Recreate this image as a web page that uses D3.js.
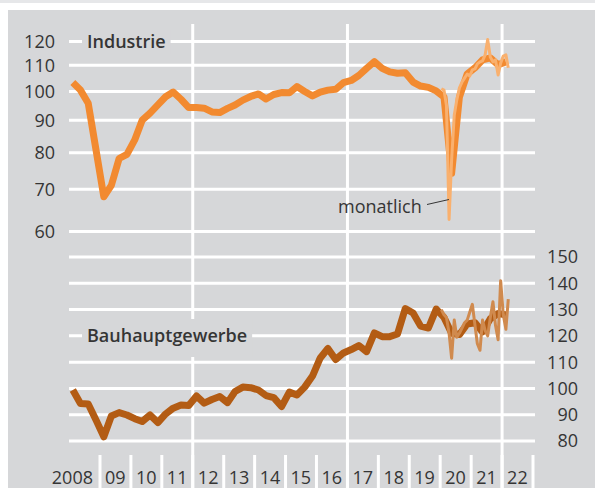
<!DOCTYPE html>
<html>
<head>
<meta charset="utf-8">
<script src="https://cdn.jsdelivr.net/npm/d3@7"></script>
<style>
  body { margin: 0; background: #fff; }
  svg { display: block; }
  text { font-family: "Open Sans", sans-serif; fill: #353535; }
</style>
</head>
<body>
<div id="chart"></div>
<script>

// quarterly indices 2008 Q1 .. 2022 Q1
const industrieQuartal = [103.3, 100.5, 95.8, 80.8, 68.1, 71.0, 78.3, 79.5,
  83.8, 90.1, 92.4, 95.2, 98.1, 99.8, 97.2, 94.3,
  94.3, 94.1, 92.8, 92.6, 94.0, 95.2, 96.9, 98.2,
  99.1, 97.3, 98.9, 99.6, 99.5, 101.8, 100.0, 98.4,
  99.8, 100.5, 100.8, 103.3, 104.1, 106.0, 108.8, 111.5,
  108.8, 107.4, 106.9, 107.1, 103.5, 102.0, 101.5, 100.2,
  98.0, 74.2, 98.0, 106.6, 109.0, 112.2, 113.0, 110.2, 111.4]

const bauQuartal = [99.4, 94.3, 94.1, 88.0, 81.6, 89.5, 90.8, 89.9,
  88.5, 87.4, 89.9, 87.0, 90.3, 92.5, 93.7, 93.5,
  97.1, 94.4, 95.8, 96.9, 94.6, 98.8, 100.5, 100.3,
  99.4, 97.3, 96.5, 93.1, 98.6, 97.5, 100.5, 104.7,
  111.6, 115.2, 111.0, 113.5, 114.8, 116.3, 114.0, 121.1,
  119.7, 119.7, 120.7, 130.4, 128.7, 123.7, 123.0, 130.2,
  127.0, 121.0, 120.5, 124.5, 125.0, 121.5, 126.5, 128.5, 128.0]

// monthly indices Jan 2020 .. Mar 2022
const industrieMonat = [101, 100.5, 95, 62.7, 78, 91.7, 96.9, 101.3, 103.5, 105, 106.6, 105.8,
  108.2, 108.6, 110.6, 111.4, 111.8, 114.3, 120.9, 113.4, 111.4, 112.2, 106.2, 110.9,
  113.8, 114.3, 109.0]

const bauMonat = [130, 128, 127, 121, 111.5, 126, 119.5, 121, 123, 125, 126, 129,
  132, 124, 117, 114.5, 126, 122, 120, 127, 133, 124, 118.5, 141,
  128, 122.5, 134]

const industrieTicks = [60, 70, 80, 90, 100, 110, 120]
const bauTicks = [80, 90, 100, 110, 120, 130, 140, 150]
const jahre = d3.range(2008, 2023)

var width = 595, height = 488

var svg = d3.select("#chart").append("svg")
    .attr("width", width)
    .attr("height", height)

// frame
svg.append("rect").attr("x", 0).attr("y", 0).attr("width", width).attr("height", 3).attr("fill", "#e6e7e9")
svg.append("rect").attr("x", 8).attr("y", 10).attr("width", width - 8).attr("height", height - 10).attr("fill", "#d6d7d9")

var x = d3.scaleTime()
    .domain([new Date(2008, 0, 1), new Date(2023, 0, 1)])
    .range([69, 533])

var yTop = d3.scaleLog()
    .domain([60, 120])
    .range([231.5, 41.5])

var yBot = d3.scaleLinear()
    .domain([80, 150])
    .range([441, 257])

const quartalDatum = i => new Date(2008 + Math.floor(i / 4), (i % 4) * 3 + 1, 15)
const monatDatum = i => new Date(2020 + Math.floor(i / 12), i % 12, 15)

// horizontal grid
svg.append("g").selectAll("line")
    .data(industrieTicks)
    .enter().append("line")
    .attr("x1", 69).attr("x2", 535)
    .attr("y1", d => yTop(d)).attr("y2", d => yTop(d))
    .attr("stroke", "#fff").attr("stroke-width", 3)

svg.append("g").selectAll("line")
    .data(bauTicks)
    .enter().append("line")
    .attr("x1", 69).attr("x2", 535)
    .attr("y1", d => yBot(d)).attr("y2", d => yBot(d))
    .attr("stroke", "#fff").attr("stroke-width", 3)

// vertical lines every five years, small ticks otherwise
svg.append("g").selectAll("line")
    .data([2012, 2017, 2022])
    .enter().append("line")
    .attr("x1", d => x(new Date(d, 0, 1))).attr("x2", d => x(new Date(d, 0, 1)))
    .attr("y1", 24).attr("y2", height)
    .attr("stroke", "#fff").attr("stroke-width", 3)

svg.append("g").selectAll("line")
    .data(d3.range(2009, 2024))
    .enter().append("line")
    .attr("x1", d => x(new Date(d, 0, 1))).attr("x2", d => x(new Date(d, 0, 1)))
    .attr("y1", 455).attr("y2", height)
    .attr("stroke", "#fff").attr("stroke-width", 3)

// axis labels
svg.append("g").selectAll("text")
    .data(industrieTicks)
    .enter().append("text")
    .attr("x", 55).attr("y", d => yTop(d)).attr("dy", "0.36em")
    .attr("text-anchor", "end").attr("font-size", 18)
    .text(d => d)

svg.append("g").selectAll("text")
    .data(bauTicks)
    .enter().append("text")
    .attr("x", 578).attr("y", d => yBot(d)).attr("dy", "0.36em")
    .attr("text-anchor", "end").attr("font-size", 18)
    .text(d => d)

svg.append("g").selectAll("text")
    .data(jahre)
    .enter().append("text")
    .attr("x", d => d == 2008 ? 93 : x(new Date(d, 6, 1)))
    .attr("y", 484)
    .attr("text-anchor", d => d == 2008 ? "end" : "middle")
    .attr("font-size", 18)
    .text(d => d == 2008 ? "2008" : String(d).slice(2))

// series titles with a box that hides the grid
var titelG = svg.append("g")
function titel(txt, yPos, boxTop, boxBottom) {
    var box = titelG.append("rect")
    var t = titelG.append("text")
        .attr("x", 87).attr("y", yPos).attr("dy", "0.36em")
        .attr("font-size", 18).attr("font-weight", 600)
        .text(txt)
    var b = t.node().getBBox()
    box.attr("x", b.x - 5).attr("y", boxTop)
        .attr("width", b.width + 10).attr("height", boxBottom - boxTop)
        .attr("fill", "#d6d7d9")
}
titel("Industrie", yTop(120), 30, 54)
titel("Bauhauptgewerbe", yBot(120), 319, 357)

// lines
var lineTop = d3.line().x(d => x(d[0])).y(d => yTop(d[1]))
var lineBot = d3.line().x(d => x(d[0])).y(d => yBot(d[1]))

svg.append("path")
    .datum(industrieQuartal.map((v, i) => [quartalDatum(i), v]))
    .attr("d", lineTop)
    .attr("fill", "none").attr("stroke", "#f28a30").attr("stroke-width", 7)
    .attr("stroke-linejoin", "round")

svg.append("path")
    .datum(industrieMonat.map((v, i) => [monatDatum(i), v]))
    .attr("d", lineTop)
    .attr("fill", "none").attr("stroke", "#f9b06e").attr("stroke-width", 3)
    .attr("stroke-linejoin", "round")

svg.append("path")
    .datum(bauQuartal.map((v, i) => [quartalDatum(i), v]))
    .attr("d", lineBot)
    .attr("fill", "none").attr("stroke", "#b35c14").attr("stroke-width", 7)
    .attr("stroke-linejoin", "round")

svg.append("path")
    .datum(bauMonat.map((v, i) => [monatDatum(i), v]))
    .attr("d", lineBot)
    .attr("fill", "none").attr("stroke", "#d08a4e").attr("stroke-width", 3)
    .attr("stroke-linejoin", "round")

// annotation
svg.append("text")
    .attr("x", 338).attr("y", 213)
    .attr("font-size", 18)
    .text("monatlich")
svg.append("line")
    .attr("x1", 427).attr("y1", 204.5).attr("x2", 449).attr("y2", 199.5)
    .attr("stroke", "#353535").attr("stroke-width", 1)

</script>
</body>
</html>
